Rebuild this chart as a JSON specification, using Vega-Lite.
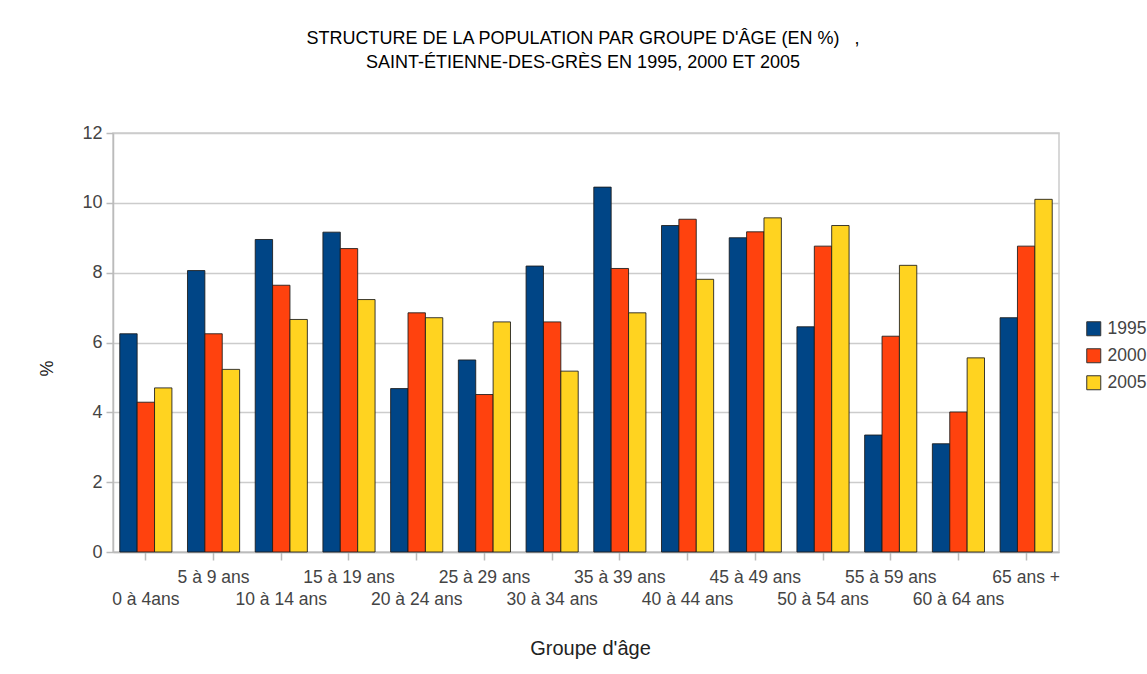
{
  "$schema": "https://vega.github.io/schema/vega-lite/v6.json",
  "width": 946,
  "height": 419,
  "autosize": {"type": "none"},
  "padding": {"left": 113, "top": 133, "right": 88, "bottom": 122},
  "background": "white",
  "title": {
    "text": ["STRUCTURE DE LA POPULATION PAR GROUPE D'ÂGE (EN %)\u00a0\u00a0\u00a0,", "SAINT-ÉTIENNE-DES-GRÈS EN 1995, 2000 ET 2005"],
    "anchor": "middle",
    "baseline": "top",
    "dx": -3,
    "dy": -52,
    "offset": 0,
    "font": "Liberation Sans",
    "fontSize": 18,
    "fontWeight": "normal",
    "color": "#000000",
    "lineHeight": 24
  },
  "data": {
    "values": [
      {"g": "0 à 4ans", "year": "1995", "v": 6.25}, {"g": "0 à 4ans", "year": "2000", "v": 4.29}, {"g": "0 à 4ans", "year": "2005", "v": 4.70},
      {"g": "5 à 9 ans", "year": "1995", "v": 8.06}, {"g": "5 à 9 ans", "year": "2000", "v": 6.25}, {"g": "5 à 9 ans", "year": "2005", "v": 5.23},
      {"g": "10 à 14 ans", "year": "1995", "v": 8.95}, {"g": "10 à 14 ans", "year": "2000", "v": 7.64}, {"g": "10 à 14 ans", "year": "2005", "v": 6.66},
      {"g": "15 à 19 ans", "year": "1995", "v": 9.16}, {"g": "15 à 19 ans", "year": "2000", "v": 8.69}, {"g": "15 à 19 ans", "year": "2005", "v": 7.23},
      {"g": "20 à 24 ans", "year": "1995", "v": 4.68}, {"g": "20 à 24 ans", "year": "2000", "v": 6.85}, {"g": "20 à 24 ans", "year": "2005", "v": 6.71},
      {"g": "25 à 29 ans", "year": "1995", "v": 5.50}, {"g": "25 à 29 ans", "year": "2000", "v": 4.51}, {"g": "25 à 29 ans", "year": "2005", "v": 6.59},
      {"g": "30 à 34 ans", "year": "1995", "v": 8.19}, {"g": "30 à 34 ans", "year": "2000", "v": 6.59}, {"g": "30 à 34 ans", "year": "2005", "v": 5.18},
      {"g": "35 à 39 ans", "year": "1995", "v": 10.45}, {"g": "35 à 39 ans", "year": "2000", "v": 8.12}, {"g": "35 à 39 ans", "year": "2005", "v": 6.85},
      {"g": "40 à 44 ans", "year": "1995", "v": 9.35}, {"g": "40 à 44 ans", "year": "2000", "v": 9.53}, {"g": "40 à 44 ans", "year": "2005", "v": 7.81},
      {"g": "45 à 49 ans", "year": "1995", "v": 9.00}, {"g": "45 à 49 ans", "year": "2000", "v": 9.17}, {"g": "45 à 49 ans", "year": "2005", "v": 9.57},
      {"g": "50 à 54 ans", "year": "1995", "v": 6.45}, {"g": "50 à 54 ans", "year": "2000", "v": 8.76}, {"g": "50 à 54 ans", "year": "2005", "v": 9.35},
      {"g": "55 à 59 ans", "year": "1995", "v": 3.35}, {"g": "55 à 59 ans", "year": "2000", "v": 6.18}, {"g": "55 à 59 ans", "year": "2005", "v": 8.21},
      {"g": "60 à 64 ans", "year": "1995", "v": 3.10}, {"g": "60 à 64 ans", "year": "2000", "v": 4.01}, {"g": "60 à 64 ans", "year": "2005", "v": 5.56},
      {"g": "65 ans +", "year": "1995", "v": 6.71}, {"g": "65 ans +", "year": "2000", "v": 8.76}, {"g": "65 ans +", "year": "2005", "v": 10.10}
    ]
  },
  "mark": {"type": "bar", "stroke": "#1a1a1a", "strokeWidth": 1, "strokeOpacity": 0.85},
  "encoding": {
    "x": {
      "field": "g",
      "type": "nominal",
      "sort": null,
      "scale": {"paddingInner": 0.23, "paddingOuter": 0.1},
      "axis": {
        "title": "Groupe d'âge",
        "titleX": 477,
        "titleY": 96,
        "titleBaseline": "middle",
        "titleAlign": "center",
        "titleFont": "Liberation Sans",
        "titleFontSize": 20,
        "titleFontWeight": "normal",
        "titleColor": "#222222",
        "labelAngle": 0,
        "labelOverlap": false,
        "labelFont": "Liberation Sans",
        "labelFontSize": 17.5,
        "labelColor": "#444444",
        "labelLineHeight": 22,
        "labelPadding": 8,
        "labelBaseline": "top",
        "labelExpr": "indexof(['0 à 4ans','10 à 14 ans','20 à 24 ans','30 à 34 ans','40 à 44 ans','50 à 54 ans','60 à 64 ans'], datum.value) >= 0 ? ['', datum.value] : datum.value",
        "tickSize": 8,
        "tickColor": "#bbbbbb",
        "tickWidth": 1.5,
        "domainColor": "#bbbbbb",
        "domainWidth": 1.5
      }
    },
    "xOffset": {"field": "year", "type": "nominal", "scale": {"paddingInner": 0, "paddingOuter": 0}},
    "y": {
      "field": "v",
      "type": "quantitative",
      "scale": {"domain": [0, 12]},
      "axis": {
        "title": "%",
        "titleX": -66,
        "titleY": 235,
        "titleAngle": -90,
        "titleAlign": "center",
        "titleBaseline": "middle",
        "titleFont": "Liberation Sans",
        "titleFontSize": 18,
        "titleFontWeight": "normal",
        "titleColor": "#222222",
        "values": [0, 2, 4, 6, 8, 10, 12],
        "labelFont": "Liberation Sans",
        "labelFontSize": 18,
        "labelColor": "#444444",
        "labelPadding": 4,
        "tickSize": 7,
        "tickColor": "#bbbbbb",
        "tickWidth": 1.5,
        "domainColor": "#bbbbbb",
        "domainWidth": 1.5,
        "grid": true,
        "gridColor": "#cccccc",
        "gridWidth": 1.5
      }
    },
    "color": {
      "field": "year",
      "type": "nominal",
      "scale": {"domain": ["1995", "2000", "2005"], "range": ["#004586", "#ff420e", "#ffd320"]},
      "legend": {
        "title": null,
        "orient": "none",
        "legendX": 972,
        "legendY": 187,
        "symbolType": "square",
        "symbolSize": 196,
        "symbolStrokeColor": "#333333",
        "symbolStrokeWidth": 1,
        "symbolOpacity": 1,
        "labelFont": "Liberation Sans",
        "labelFontSize": 17.5,
        "labelColor": "#444444",
        "labelOffset": 5,
        "rowPadding": 8
      }
    }
  },
  "config": {
    "view": {"stroke": "#cccccc", "strokeWidth": 1.5}
  }
}
